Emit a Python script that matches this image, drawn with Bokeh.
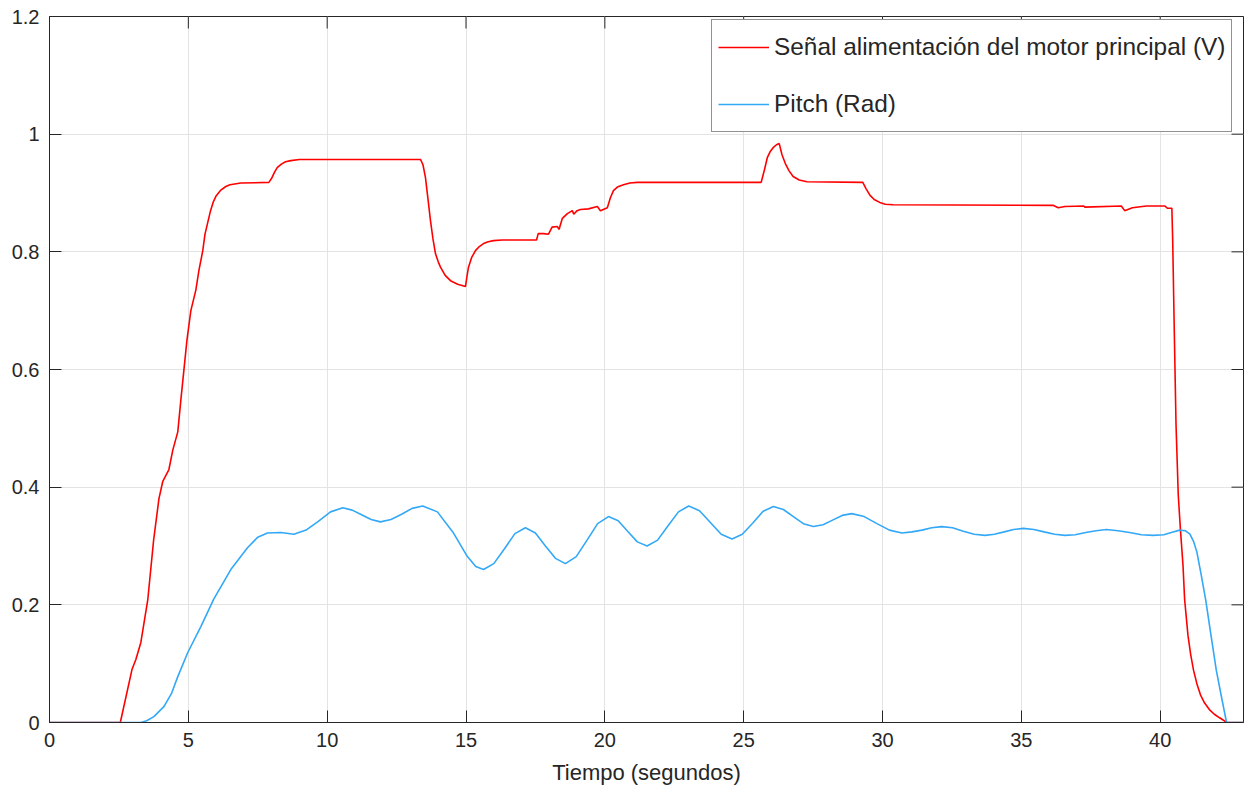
from bokeh.plotting import figure
from bokeh.models import (Range1d, FixedTicker, PrintfTickFormatter, Legend, LegendItem)
from bokeh.embed import file_html
from bokeh.resources import INLINE

# ---- data ----
t_motor = [0, 2.55, 2.97, 3.11, 3.29, 3.54, 3.75, 3.94, 4.08, 4.30, 4.44, 4.62, 4.73,
           4.84, 4.95, 5.09, 5.27, 5.38, 5.52, 5.60, 5.70, 5.80, 5.90, 6.00, 6.17, 6.35,
           6.50, 6.89, 7.90, 8.00, 8.10, 8.20, 8.35, 8.50, 8.69, 9.00, 13.36, 13.45,
           13.54, 13.63, 13.72, 13.81, 13.90, 14.00, 14.08, 14.25, 14.44, 14.70, 14.98,
           15.04, 15.09, 15.20, 15.34, 15.48, 15.63, 15.80, 15.99, 16.30, 17.54, 17.60,
           17.79, 17.97, 18.10, 18.29, 18.35, 18.47, 18.65, 18.83, 18.88, 19.00,
           19.12, 19.41, 19.73, 19.84, 20.09, 20.20, 20.31, 20.45, 20.67, 20.90, 21.17,
           25.63, 25.75, 25.85, 25.95, 26.06, 26.18, 26.28, 26.38, 26.50, 26.63, 26.78,
           27.00, 27.28, 29.29, 29.40, 29.55, 29.70, 29.90, 30.10, 30.38, 36.14,
           36.33, 36.57, 37.25, 37.29, 38.60, 38.72, 39.00, 39.50, 40.16, 40.27,
           40.42, 40.45, 40.50, 40.57, 40.65, 40.73, 40.82, 40.88, 41.00, 41.10, 41.20,
           41.32, 41.45, 41.60, 41.77, 41.95, 42.14, 42.40, 43.0]
v_motor = [0, 0, 0.090, 0.107, 0.136, 0.209, 0.310, 0.380, 0.410, 0.430, 0.463, 0.494, 0.548,
           0.599, 0.650, 0.700, 0.735, 0.768, 0.802, 0.830, 0.850, 0.870, 0.885, 0.895, 0.905, 0.911,
           0.914, 0.917, 0.918, 0.925, 0.935, 0.943, 0.949, 0.953, 0.955, 0.957, 0.957, 0.948,
           0.926, 0.890, 0.853, 0.822, 0.797, 0.783, 0.774, 0.760, 0.751, 0.745, 0.741,
           0.760, 0.774, 0.790, 0.802, 0.809, 0.814, 0.817, 0.819, 0.820, 0.820, 0.831,
           0.831, 0.830, 0.842, 0.843, 0.838, 0.857, 0.865, 0.870, 0.864, 0.870,
           0.872, 0.873, 0.877, 0.870, 0.875, 0.892, 0.904, 0.910, 0.914, 0.917, 0.918,
           0.918, 0.940, 0.960, 0.970, 0.977, 0.982, 0.984, 0.965, 0.950, 0.938, 0.928,
           0.922, 0.919, 0.918, 0.908, 0.896, 0.889, 0.884, 0.881, 0.880, 0.879,
           0.875, 0.877, 0.878, 0.876, 0.878, 0.870, 0.875, 0.878, 0.878, 0.874,
           0.874, 0.820, 0.684, 0.506, 0.387, 0.327, 0.268, 0.209, 0.148, 0.115, 0.089,
           0.066, 0.047, 0.033, 0.022, 0.014, 0.008, 0.0, 0.0]

t_pitch = [0, 3.29, 3.50, 3.76, 4.12, 4.40, 4.62, 4.98, 5.45, 5.92, 6.53, 7.13, 7.50, 7.85,
           8.33, 8.80, 9.24, 9.68, 10.12, 10.56, 10.90, 11.24, 11.58, 11.92, 12.30,
           12.68, 13.06, 13.44, 13.97, 14.55, 15.05, 15.35, 15.63, 16.00, 16.38, 16.76,
           17.14, 17.50, 17.86, 18.22, 18.58, 18.97, 19.36, 19.74, 20.13, 20.48, 20.82,
           21.17, 21.52, 21.90, 22.27, 22.65, 23.02, 23.41, 23.80, 24.19, 24.58, 24.95,
           25.33, 25.70, 26.07, 26.43, 26.79, 27.15, 27.51, 27.86, 28.20, 28.55, 28.89,
           29.34, 29.80, 30.25, 30.70, 31.06, 31.42, 31.77, 32.13, 32.52, 32.91, 33.30,
           33.69, 34.03, 34.38, 34.72, 35.07, 35.45, 35.82, 36.20, 36.57, 36.94, 37.32,
           37.69, 38.06, 38.48, 38.90, 39.32, 39.74, 40.13, 40.40, 40.70, 40.90, 41.07,
           41.20, 41.32, 41.48, 41.64, 41.83, 42.02, 42.20, 42.39, 43.0]
v_pitch = [0, 0, 0.003, 0.010, 0.027, 0.050, 0.078, 0.119, 0.163, 0.210, 0.260, 0.297, 0.315,
           0.322, 0.323, 0.320, 0.327, 0.342, 0.358, 0.365, 0.361, 0.353, 0.345, 0.341,
           0.345, 0.354, 0.364, 0.368, 0.358, 0.322, 0.282, 0.265, 0.260, 0.270, 0.295,
           0.321, 0.331, 0.322, 0.300, 0.279, 0.270, 0.282, 0.310, 0.338, 0.350, 0.343,
           0.325, 0.307, 0.300, 0.310, 0.334, 0.358, 0.368, 0.360, 0.340, 0.320, 0.312,
           0.320, 0.339, 0.359, 0.367, 0.362, 0.350, 0.338, 0.333, 0.336, 0.344, 0.352,
           0.355, 0.350, 0.338, 0.327, 0.322, 0.324, 0.327, 0.331, 0.333, 0.331, 0.325,
           0.320, 0.318, 0.320, 0.324, 0.328, 0.330, 0.328, 0.324, 0.320, 0.318, 0.319,
           0.323, 0.326, 0.328, 0.326, 0.323, 0.319, 0.318, 0.319, 0.323, 0.327, 0.326,
           0.320, 0.308, 0.290, 0.250, 0.208, 0.148, 0.089, 0.045, 0.0, 0.0]

x_ticks = [0, 5, 10, 15, 20, 25, 30, 35, 40]
y_ticks = [0, 0.2, 0.4, 0.6, 0.8, 1.0, 1.2]

label_motor = "Señal alimentación del motor principal (V)"
label_pitch = "Pitch (Rad)"
x_title = "Tiempo (segundos)"

# ---- figure ----
AX = "#262626"
FONT = "Liberation Sans"
X0, X1, Y0, Y1 = 0, 43, 0, 1.2
FW, FH = 1194, 706          # frame size in px
TICK = 12                   # inward tick length in px

p = figure(width=1248, height=794, output_backend="svg", toolbar_location=None,
           x_range=Range1d(X0, X1), y_range=Range1d(Y0, Y1),
           min_border_left=49, min_border_right=5, min_border_top=16,
           min_border_bottom=72)
p.background_fill_color = "white"
p.border_fill_color = "white"
p.outline_line_color = AX
p.outline_line_width = 1

p.xgrid.ticker = FixedTicker(ticks=x_ticks)
p.ygrid.ticker = FixedTicker(ticks=y_ticks)
p.grid.grid_line_color = "#e3e3e3"
p.grid.grid_line_width = 1

r1 = p.line(t_motor, v_motor, line_color="#ff0000", line_width=1.6)
r2 = p.line(t_pitch, v_pitch, line_color="#33a8f7", line_width=1.6)

# inward ticks on the top and right edges of the box
dy = TICK * (Y1 - Y0) / FH
dx = TICK * (X1 - X0) / FW
p.segment(x0=x_ticks, y0=[Y1] * len(x_ticks), x1=x_ticks, y1=[Y1 - dy] * len(x_ticks),
          line_color=AX, line_width=1)
p.segment(x0=[X1] * len(y_ticks), y0=y_ticks, x1=[X1 - dx] * len(y_ticks), y1=y_ticks,
          line_color=AX, line_width=1)

for ax in (p.xaxis[0], p.yaxis[0]):
    ax.axis_line_color = AX
    ax.major_tick_line_color = AX
    ax.major_tick_in = TICK
    ax.major_tick_out = 0
    ax.minor_tick_line_color = None
    ax.major_label_text_color = AX
    ax.major_label_text_font = FONT
    ax.major_label_text_font_size = "20px"
    ax.formatter = PrintfTickFormatter(format="%g")

p.xaxis[0].ticker = FixedTicker(ticks=x_ticks)
p.yaxis[0].ticker = FixedTicker(ticks=y_ticks)
p.xaxis[0].major_label_standoff = 10
p.yaxis[0].major_label_standoff = 10
p.xaxis[0].axis_label = x_title
p.xaxis[0].axis_label_text_font = FONT
p.xaxis[0].axis_label_text_font_size = "22px"
p.xaxis[0].axis_label_text_font_style = "normal"
p.xaxis[0].axis_label_text_color = AX
p.xaxis[0].axis_label_standoff = 10

legend = Legend(items=[LegendItem(label=label_motor, renderers=[r1]),
                       LegendItem(label=label_pitch, renderers=[r2])],
                location=(662, 590))
legend.label_text_font = FONT
legend.label_text_font_size = "24.4px"
legend.label_text_color = AX
legend.glyph_width = 51
legend.glyph_height = 42
legend.label_height = 42
legend.spacing = 15
legend.padding = 6
legend.label_standoff = 5
legend.border_line_color = AX
legend.border_line_width = 1
legend.background_fill_color = "white"
legend.background_fill_alpha = 1.0
p.add_layout(legend, "center")

open("out.html", "w").write(file_html(p, INLINE))
